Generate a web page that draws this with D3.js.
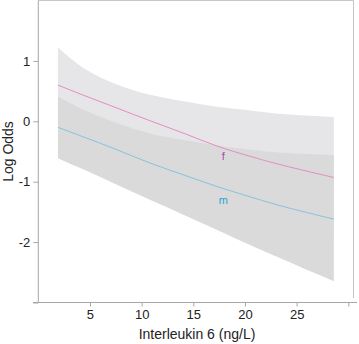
<!DOCTYPE html>
<html><head><meta charset="utf-8">
<script src="https://cdn.jsdelivr.net/npm/d3@7"></script>
<style>body{margin:0;background:#fff}svg{display:block}text{font-family:"Liberation Sans",Arial,sans-serif}</style>
</head><body><svg id="c" width="359" height="344"></svg>
<script>
const xVals  = [1.9, 4.4, 7.6, 10.8, 14.1, 17.3, 20.5, 23.7, 28.6];
const fFit   = [0.60, 0.43, 0.22, 0.01, -0.20, -0.41, -0.58, -0.73, -0.93];
const fUpper = [1.22, 0.88, 0.61, 0.44, 0.33, 0.24, 0.18, 0.12, 0.07];
const fLower = [-0.02, -0.02, -0.17, -0.42, -0.73, -1.06, -1.34, -1.58, -1.93];
const mFit   = [-0.10, -0.26, -0.47, -0.69, -0.89, -1.08, -1.25, -1.41, -1.62];
const mUpper = [0.41, 0.19, -0.03, -0.20, -0.31, -0.40, -0.47, -0.52, -0.56];
const mLower = [-0.61, -0.80, -1.05, -1.30, -1.55, -1.80, -2.05, -2.29, -2.65];
const groups = ["f", "m"];
const labelX = [17.9, 17.9];
const labelY = [-0.60, -1.32];
const xTicks = [5, 10, 15, 20, 25, 30];
const xTickLabels = ["5", "10", "15", "20", "25", ""];
const yTicks = [-3, -2, -1, 0, 1];
const yTickLabels = ["", "-2", "-1", "0", "1"];
const xTitle = "Interleukin 6 (ng/L)";
const yTitle = "Log Odds";

const svg = d3.select("#c");
const x = d3.scaleLinear().domain([0, 30]).range([38.3, 348.3]);
const y = d3.scaleLinear().domain([-3, 2]).range([302.5, 0.5]);

const pts = (lo, hi) => xVals.map((v, i) => ({x: v, lo: lo[i], hi: hi[i]}));
const area = d3.area().x(d => x(d.x)).y0(d => y(d.lo)).y1(d => y(d.hi)).curve(d3.curveNatural);
const line = d3.line().x(d => x(d.x)).y(d => y(d.v)).curve(d3.curveNatural);

const bands = [
  {lo: fLower, hi: fUpper, fill: "#e6e5e7"},
  {lo: mLower, hi: mUpper, fill: "#dadadb"}
];
bands.forEach(b => svg.append("path").attr("d", area(pts(b.lo, b.hi))).attr("fill", b.fill));

const fits = [
  {v: fFit, color: "#e58cc4"},
  {v: mFit, color: "#86c3dc"}
];
fits.forEach(f => svg.append("path")
  .attr("d", line(xVals.map((v, i) => ({x: v, v: f.v[i]}))))
  .attr("fill", "none").attr("stroke", f.color).attr("stroke-width", 1));

const labelColors = ["#a24aa6", "#2aa4cf"];
groups.forEach((g, i) => svg.append("text")
  .attr("x", x(labelX[i])).attr("y", y(labelY[i]))
  .attr("text-anchor", "middle").attr("dominant-baseline", "middle")
  .attr("font-size", 11).attr("fill", labelColors[i]).text(g));

// frame (top and right)
svg.append("line").attr("x1", 38.3).attr("x2", 353.5).attr("y1", 0.5).attr("y2", 0.5).attr("stroke", "#c6c6c6");
svg.append("line").attr("x1", 353.5).attr("x2", 353.5).attr("y1", 0.5).attr("y2", 298).attr("stroke", "#c6c6c6");

// axes
const yAxis = d3.axisLeft(y).tickValues(yTicks).tickSize(5).tickPadding(3)
  .tickFormat((d, i) => yTickLabels[i]);
const gy = svg.append("g").attr("transform", "translate(38.3,0)").call(yAxis);
const xAxis = d3.axisBottom(x).tickValues(xTicks).tickSize(4).tickPadding(3)
  .tickFormat((d, i) => xTickLabels[i]);
const gx = svg.append("g").attr("transform", "translate(0,302.5)").call(xAxis);
[gx, gy].forEach(g => {
  g.select(".domain").remove();
  g.selectAll(".tick line").attr("stroke", "#a6a6a6");
  g.selectAll(".tick text").attr("fill", "#222").attr("font-size", 13)
    .attr("font-family", "Liberation Sans, Arial, sans-serif");
});
svg.append("line").attr("x1", 38.3).attr("x2", 38.3).attr("y1", 0.5).attr("y2", 302.5).attr("stroke", "#a6a6a6");
svg.append("line").attr("x1", 33).attr("x2", 357).attr("y1", 302.5).attr("y2", 302.5).attr("stroke", "#a6a6a6");

svg.append("text").attr("x", 197).attr("y", 339).attr("text-anchor", "middle")
  .attr("font-size", 14).attr("fill", "#222").text(xTitle);
svg.append("text").attr("transform", "translate(13,151.5) rotate(-90)").attr("text-anchor", "middle")
  .attr("font-size", 14).attr("fill", "#222").text(yTitle);
</script></body></html>
